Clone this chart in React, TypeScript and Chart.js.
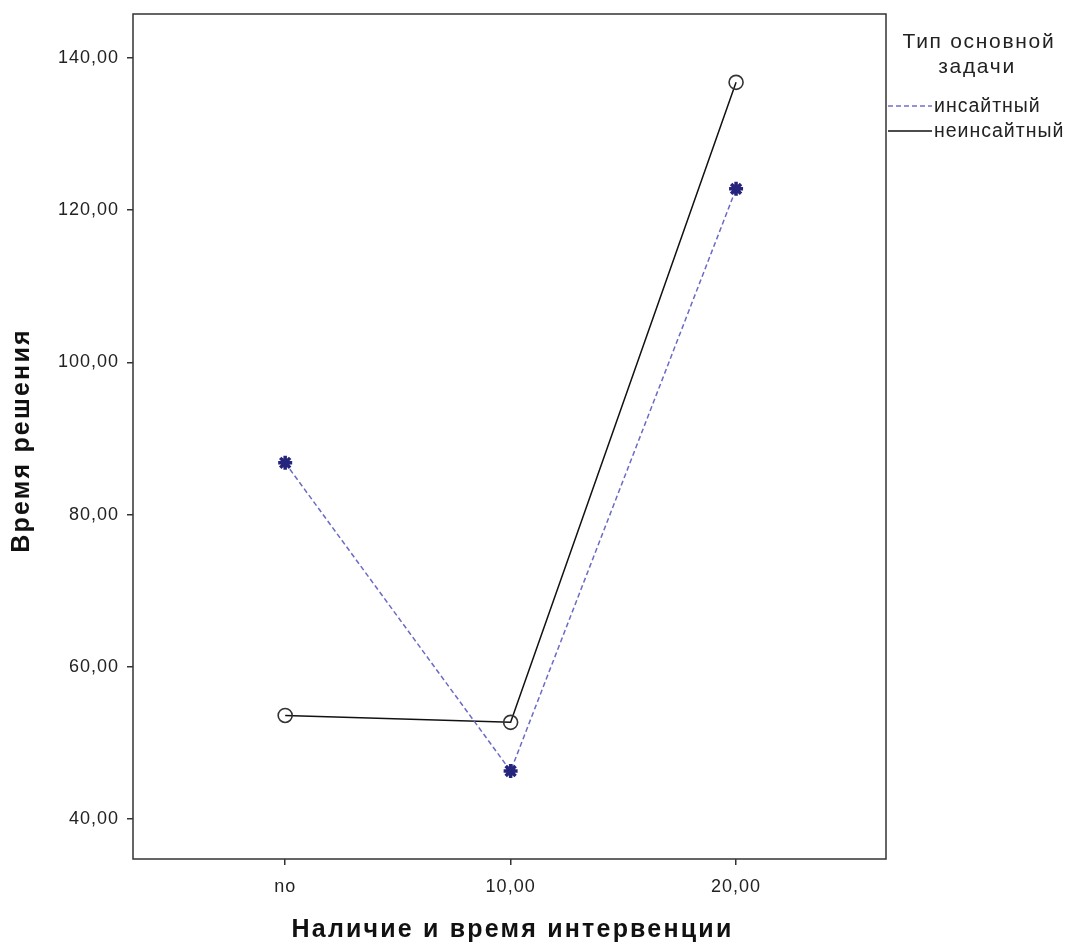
import React, { useEffect, useRef } from "react";
import { Chart, registerables } from "chart.js";

Chart.register(...registerables);

const categories = ["no", "10,00", "20,00"];
const insightValues = [86.8, 46.3, 122.8];
const nonInsightValues = [53.6, 52.7, 136.8];
const yTicks = [40, 60, 80, 100, 120, 140];
const legendTitle = ["Тип основной", "задачи"];
const seriesNames = ["инсайтный", "неинсайтный"];
const xTitle = "Наличие и время интервенции";
const yTitle = "Время решения";

const FONT = "'Liberation Sans', Arial, sans-serif";

const customPlugin = {
  id: "customDecor",
  beforeDraw(chart: any) {
    (chart.ctx as any).letterSpacing = "1px";
  },
  beforeDatasetsDraw(chart: any) {
    const { ctx, chartArea } = chart;
    ctx.save();
    ctx.strokeStyle = "#333";
    ctx.lineWidth = 1.5;
    ctx.strokeRect(chartArea.left, chartArea.top, chartArea.right - chartArea.left, chartArea.bottom - chartArea.top);
    ctx.restore();
  },
  afterDraw(chart: any) {
    const { ctx, chartArea } = chart;
    ctx.save();
    ctx.fillStyle = "#111";
    // axis titles
    ctx.font = `bold 25px ${FONT}`;
    (ctx as any).letterSpacing = "2.2px";
    ctx.textAlign = "center";
    ctx.textBaseline = "middle";
    ctx.fillText(xTitle, (chartArea.left + chartArea.right) / 2 + 3, 930);
    ctx.save();
    ctx.translate(22, (chartArea.top + chartArea.bottom) / 2 + 4);
    ctx.rotate(-Math.PI / 2);
    ctx.fillText(yTitle, 0, 0);
    ctx.restore();
    // legend
    ctx.fillStyle = "#222";
    ctx.font = `21px ${FONT}`;
    (ctx as any).letterSpacing = "1.7px";
    ctx.fillText(legendTitle[0], 979, 42);
    ctx.fillText(legendTitle[1], 977, 67);
    ctx.font = `19.5px ${FONT}`;
    (ctx as any).letterSpacing = "1px";
    ctx.textAlign = "left";
    const rows = [106, 131];
    const lx0 = chartArea.right + 2;
    const lx1 = chartArea.right + 46;
    // insight
    ctx.strokeStyle = "#7070c8";
    ctx.lineWidth = 1.5;
    ctx.setLineDash([5, 3]);
    ctx.beginPath();
    ctx.moveTo(lx0, rows[0]);
    ctx.lineTo(lx1, rows[0]);
    ctx.stroke();
    ctx.setLineDash([]);
    ctx.strokeStyle = "#111";
    ctx.beginPath();
    ctx.moveTo(lx0, rows[1]);
    ctx.lineTo(lx1, rows[1]);
    ctx.stroke();
    ctx.fillText(seriesNames[0], lx1 + 2, rows[0] + 1);
    ctx.fillText(seriesNames[1], lx1 + 2, rows[1] + 1);
    ctx.restore();
  },
};

export default function App() {
  const ref = useRef<HTMLCanvasElement | null>(null);
  useEffect(() => {
    if (!ref.current) return;
    const chart = new Chart(ref.current, {
      type: "line",
      data: {
        datasets: [
          {
            label: seriesNames[0],
            data: insightValues.map((v, i) => ({ x: i, y: v })),
            borderColor: "#6b6bc4",
            borderWidth: 1.5,
            borderDash: [5, 3],
            pointStyle: "star",
            pointRadius: 7,
            pointBorderWidth: 3.5,
            pointBorderColor: "#25257d",
            pointBackgroundColor: "#25257d",
            tension: 0,
            fill: false,
          },
          {
            label: seriesNames[1],
            data: nonInsightValues.map((v, i) => ({ x: i, y: v })),
            borderColor: "#111",
            borderWidth: 1.5,
            pointStyle: "circle",
            pointRadius: 7,
            pointBorderWidth: 1.6,
            pointBorderColor: "#333",
            pointBackgroundColor: "rgba(0,0,0,0)",
            tension: 0,
            fill: false,
          },
        ],
      },
      options: {
        animation: false,
        responsive: false,
        devicePixelRatio: 1,
        layout: { padding: { top: 14, right: 181, left: 0, bottom: 0 } },
        plugins: { legend: { display: false }, tooltip: { enabled: false } },
        scales: {
          x: {
            type: "linear",
            min: -0.675,
            max: 2.665,
            afterFit: (s: any) => {
              s.height = 87;
              s.paddingLeft = 0;
              s.paddingRight = 0;
            },
            afterBuildTicks: (s: any) => {
              s.ticks = categories.map((_, i) => ({ value: i }));
            },
            border: { display: false },
            grid: { drawOnChartArea: false, drawTicks: true, tickLength: 6, color: "#333", lineWidth: 1.5 },
            ticks: {
              color: "#222",
              font: { family: FONT, size: 18 },
              padding: 11,
              maxRotation: 0,
              callback: (v: any) => categories[v as number] ?? "",
            },
          },
          y: {
            type: "linear",
            min: 34.74,
            max: 145.78,
            afterFit: (s: any) => {
              s.width = 133;
              s.paddingTop = 0;
              s.paddingBottom = 0;
            },
            afterBuildTicks: (s: any) => {
              s.ticks = yTicks.map((v) => ({ value: v }));
            },
            border: { display: false },
            grid: { drawOnChartArea: false, drawTicks: true, tickLength: 6, color: "#333", lineWidth: 1.5 },
            ticks: {
              color: "#222",
              font: { family: FONT, size: 18 },
              padding: 8,
              callback: (v: any) => Number(v).toFixed(2).replace(".", ","),
            },
          },
        },
      },
      plugins: [customPlugin],
    });
    return () => chart.destroy();
  }, []);
  return (
    <div style={{ position: "fixed", left: 0, top: 0, width: 1067, height: 946, background: "#fff" }}>
      <canvas ref={ref} width={1067} height={946} style={{ width: 1067, height: 946, display: "block" }} />
    </div>
  );
}
